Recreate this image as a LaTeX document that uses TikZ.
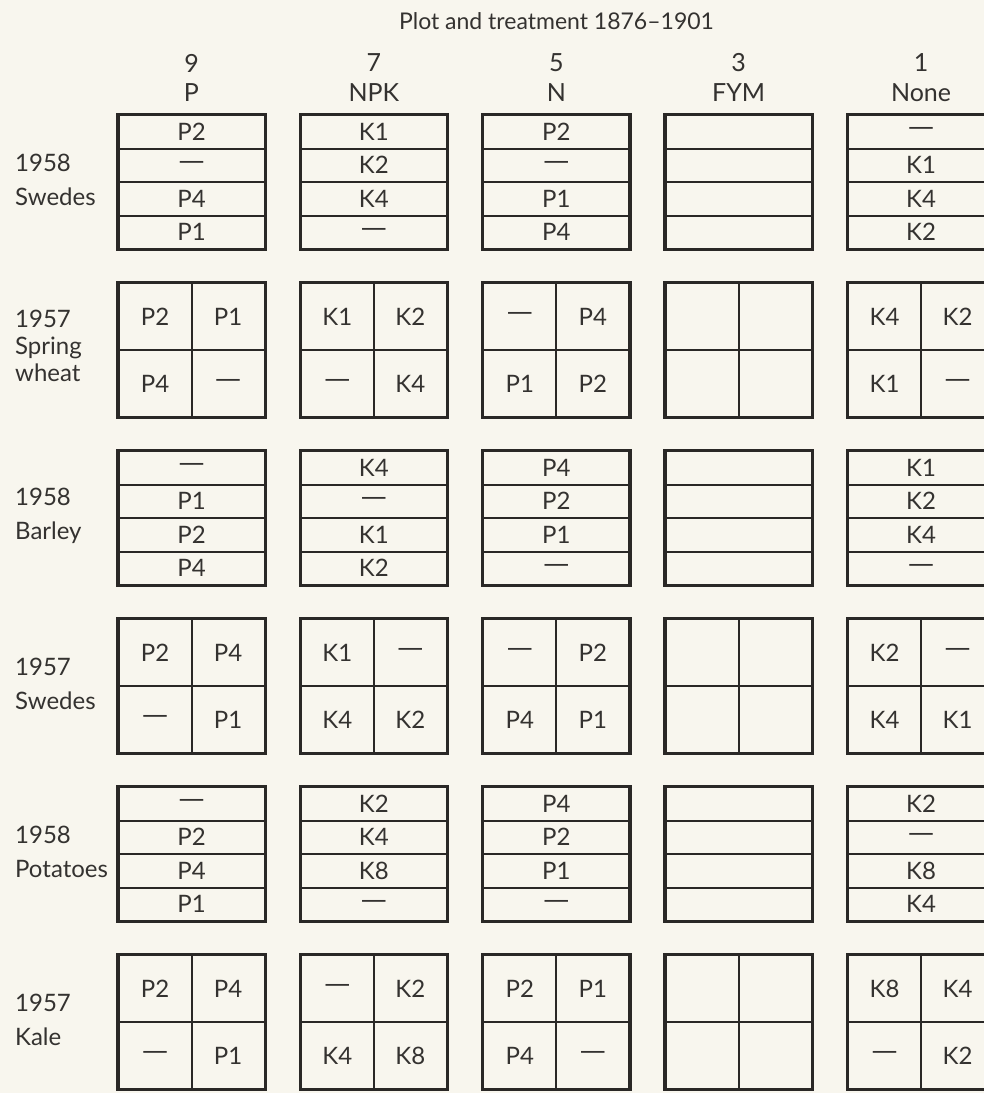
\documentclass[tikz,border=0pt]{standalone}
\usepackage{fontspec}
\setmainfont{Lato}
\newfontfamily\dashfont{DejaVu Sans}
\usepackage{tikz}
\usetikzlibrary{positioning}
\definecolor{paper}{HTML}{F8F6EE}
\definecolor{ink}{HTML}{2A2826}
\definecolor{print}{HTML}{343230}
\tikzset{
  cell/.style={draw=ink, line width=2pt, inner sep=0pt, text=print, font=\fontsize{24}{28}\selectfont},
  plotbox/.style={draw=ink, line width=2.6pt},
  head/.style={text=print, font=\fontsize{25}{30}\selectfont, inner sep=0pt},
  rowlabel/.style={text=print, font=\fontsize{24}{34}\selectfont, align=left, anchor=west, inner sep=0pt},
}
\newcommand{\nil}{{\dashfont\fontsize{26}{28}\selectfont —}}
\newcommand{\boxw}{146}
\newcommand{\boxh}{134}
\newcommand{\xfirst}{191.5}
\newcommand{\colsep}{182.4}
% four strips, one under the other: name, x centre, y top, labels
\newcommand{\strips}[7]{%
  \foreach \lab [count=\i] in {{#4},{#5},{#6},{#7}} {%
    \pgfmathsetmacro{\ypos}{#3+(\i-0.5)*\boxh/4}%
    \node[cell, minimum width=\boxw, minimum height=\boxh/4] (#1-\i) at (#2,\ypos) {\lab};%
  }%
  \draw[plotbox] (#1-1.north west) rectangle (#1-4.south east);%
}
% two by two quarters: name, x centre, y top, labels row by row
\newcommand{\quads}[7]{%
  \foreach \lab [count=\i] in {{#4},{#5},{#6},{#7}} {%
    \pgfmathsetmacro{\xpos}{#2+(mod(\i-1,2)-0.5)*\boxw/2}%
    \pgfmathsetmacro{\ypos}{#3+(int((\i-1)/2)+0.5)*\boxh/2}%
    \node[cell, minimum width=\boxw/2, minimum height=\boxh/2] (#1-\i) at (\xpos,\ypos) {\lab};%
  }%
  \draw[plotbox] (#1-1.north west) rectangle (#1-4.south east);%
}

\begin{document}
\begin{tikzpicture}[x=1pt, y=-1pt]
  \useasboundingbox (0,0) rectangle (984,1093);
  \fill[paper] (0,0) rectangle (984,1093);
  \clip (0,0) rectangle (984,1093);

  % --- headings --------------------------------------------------------------
  \node[head, font=\fontsize{23}{27}\selectfont] (title) at (556.5,21) {Plot and treatment 1876--1901};
  \foreach \num/\trt [count=\k] in {9/P, 7/NPK, 5/N, 3/FYM, 1/None} {
    \pgfmathsetmacro{\xpos}{\xfirst+(\k-1)*\colsep}
    \node[head] (plot-\k) at (\xpos,63) {\num};
    \node[head] (trt-\k) at (\xpos,93) {\trt};
  }

  % --- 1958 swedes -------------------------------------------------------------
  \node[rowlabel] (row-1) at (15,180) {1958\\Swedes};
  \strips{sw58-p}{\xfirst}{115}{P2}{\nil}{P4}{P1}
  \strips{sw58-npk}{\xfirst+\colsep}{115}{K1}{K2}{K4}{\nil}
  \strips{sw58-n}{\xfirst+2*\colsep}{115}{P2}{\nil}{P1}{P4}
  \strips{sw58-fym}{\xfirst+3*\colsep}{115}{}{}{}{}
  \strips{sw58-none}{\xfirst+4*\colsep}{115}{\nil}{K1}{K4}{K2}

  % --- 1957 spring wheat -------------------------------------------------------
  \node[rowlabel, font=\fontsize{24}{27}\selectfont] (row-2) at (15,346) {1957\\Spring\\wheat};
  \quads{wh57-p}{\xfirst}{283}{P2}{P1}{P4}{\nil}
  \quads{wh57-npk}{\xfirst+\colsep}{283}{K1}{K2}{\nil}{K4}
  \quads{wh57-n}{\xfirst+2*\colsep}{283}{\nil}{P4}{P1}{P2}
  \quads{wh57-fym}{\xfirst+3*\colsep}{283}{}{}{}{}
  \quads{wh57-none}{\xfirst+4*\colsep}{283}{K4}{K2}{K1}{\nil}

  % --- 1958 barley -------------------------------------------------------------
  \node[rowlabel] (row-3) at (15,516) {1958\\Barley};
  \strips{ba58-p}{\xfirst}{451}{\nil}{P1}{P2}{P4}
  \strips{ba58-npk}{\xfirst+\colsep}{451}{K4}{\nil}{K1}{K2}
  \strips{ba58-n}{\xfirst+2*\colsep}{451}{P4}{P2}{P1}{\nil}
  \strips{ba58-fym}{\xfirst+3*\colsep}{451}{}{}{}{}
  \strips{ba58-none}{\xfirst+4*\colsep}{451}{K1}{K2}{K4}{\nil}

  % --- 1957 swedes -------------------------------------------------------------
  \node[rowlabel] (row-4) at (15,684) {1957\\Swedes};
  \quads{sw57-p}{\xfirst}{619}{P2}{P4}{\nil}{P1}
  \quads{sw57-npk}{\xfirst+\colsep}{619}{K1}{\nil}{K4}{K2}
  \quads{sw57-n}{\xfirst+2*\colsep}{619}{\nil}{P2}{P4}{P1}
  \quads{sw57-fym}{\xfirst+3*\colsep}{619}{}{}{}{}
  \quads{sw57-none}{\xfirst+4*\colsep}{619}{K2}{\nil}{K4}{K1}

  % --- 1958 potatoes -----------------------------------------------------------
  \node[rowlabel] (row-5) at (15,852) {1958\\Potatoes};
  \strips{po58-p}{\xfirst}{787}{\nil}{P2}{P4}{P1}
  \strips{po58-npk}{\xfirst+\colsep}{787}{K2}{K4}{K8}{\nil}
  \strips{po58-n}{\xfirst+2*\colsep}{787}{P4}{P2}{P1}{\nil}
  \strips{po58-fym}{\xfirst+3*\colsep}{787}{}{}{}{}
  \strips{po58-none}{\xfirst+4*\colsep}{787}{K2}{\nil}{K8}{K4}

  % --- 1957 kale ---------------------------------------------------------------
  \node[rowlabel] (row-6) at (15,1020) {1957\\Kale};
  \quads{ka57-p}{\xfirst}{955}{P2}{P4}{\nil}{P1}
  \quads{ka57-npk}{\xfirst+\colsep}{955}{\nil}{K2}{K4}{K8}
  \quads{ka57-n}{\xfirst+2*\colsep}{955}{P2}{P1}{P4}{\nil}
  \quads{ka57-fym}{\xfirst+3*\colsep}{955}{}{}{}{}
  \quads{ka57-none}{\xfirst+4*\colsep}{955}{K8}{K4}{\nil}{K2}

\end{tikzpicture}
\end{document}
